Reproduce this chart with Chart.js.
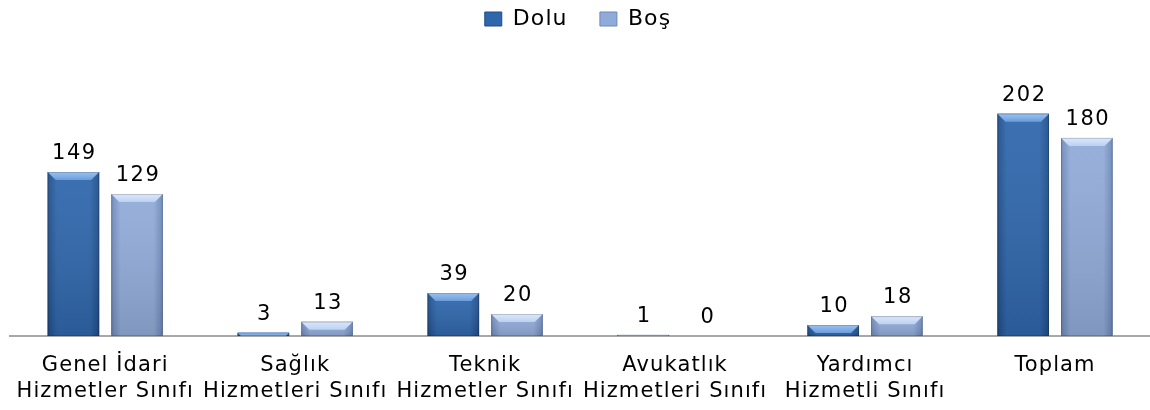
<!DOCTYPE html>
<html>
<head>
<meta charset="utf-8">
<script src="https://cdn.jsdelivr.net/npm/chart.js@4.4.1/dist/chart.umd.min.js"></script>
<style>
  html, body { margin: 0; padding: 0; background: #fff; }
  #wrap { width: 1150px; height: 410px; }
</style>
</head>
<body>
<div id="wrap"><canvas id="myChart" width="1150" height="410"></canvas></div>
<script>
  const categories = [
    ["Genel İdari", "Hizmetler Sınıfı"],
    ["Sağlık", "Hizmetleri Sınıfı"],
    ["Teknik", "Hizmetler Sınıfı"],
    ["Avukatlık", "Hizmetleri Sınıfı"],
    ["Yardımcı", "Hizmetli Sınıfı"],
    ["Toplam"]
  ];
  const doluValues = [149, 3, 39, 1, 10, 202];
  const bosValues = [129, 13, 20, 0, 18, 180];

  const FONT = "'DejaVu Sans', 'Open Sans', sans-serif";

  const palette = {
    dolu: { mid: "#3067ac", edge: "#1e4d89", top: "#6a9ddc", topHi: "#9cc2f0" },
    bos: { mid: "#91abd8", edge: "#6d87b8", top: "#bcd1f2", topHi: "#dce8fb" }
  };

  // wider text, like the original
  const spacing = {
    id: "spacing",
    beforeUpdate(chart) { chart.ctx.letterSpacing = "1.1px"; },
    beforeDraw(chart) { chart.ctx.letterSpacing = "1.1px"; }
  };

  // shading, bevel on top of each bar + value label
  const bevelAndLabels = {
    id: "bevelAndLabels",
    afterDatasetsDraw(chart) {
      const c = chart.ctx;
      chart.data.datasets.forEach(function (ds, i) {
        const meta = chart.getDatasetMeta(i);
        const key = i === 0 ? "dolu" : "bos";
        meta.data.forEach(function (bar, j) {
          const left = bar.x - bar.width / 2;
          const right = bar.x + bar.width / 2;
          const top = bar.y;
          const h = bar.base - bar.y;
          const bev = Math.min(8, h);
          if (h > 0.5) {
            c.save();
            const g = c.createLinearGradient(left, 0, right, 0);
            g.addColorStop(0, palette[key].edge);
            g.addColorStop(0.18, palette[key].mid);
            g.addColorStop(0.82, palette[key].mid);
            g.addColorStop(1, palette[key].edge);
            c.fillStyle = g;
            c.fillRect(left, top, bar.width, h);
            const v = c.createLinearGradient(0, top, 0, bar.base);
            v.addColorStop(0, "rgba(255,255,255,0.06)");
            v.addColorStop(1, "rgba(0,0,0,0.12)");
            c.fillStyle = v;
            c.fillRect(left, top, bar.width, h);
            const t = c.createLinearGradient(0, top, 0, top + bev);
            t.addColorStop(0, palette[key].topHi);
            t.addColorStop(1, palette[key].top);
            c.fillStyle = t;
            c.beginPath();
            c.moveTo(left, top);
            c.lineTo(right, top);
            c.lineTo(right - bev, top + bev);
            c.lineTo(left + bev, top + bev);
            c.closePath();
            c.fill();
            c.strokeStyle = "rgba(0,0,0,0.18)";
            c.lineWidth = 1;
            c.strokeRect(left + 0.5, top + 0.5, bar.width - 1, h - 1);
            c.restore();
          }
          c.save();
          c.letterSpacing = "1.5px";
          c.fillStyle = "#000";
          c.font = "21px " + FONT;
          c.textAlign = "center";
          c.textBaseline = "alphabetic";
          c.fillText(String(ds.data[j]), bar.x + 1, bar.y - 13);
          c.restore();
        });
      });
    }
  };

  const ctx = document.getElementById("myChart").getContext("2d");
  new Chart(ctx, {
    type: "bar",
    data: {
      labels: categories,
      datasets: [
        {
          label: "Dolu",
          data: doluValues,
          backgroundColor: palette.dolu.mid,
          borderWidth: 0,
          categoryPercentage: 0.67,
          barPercentage: 0.81
        },
        {
          label: "Boş",
          data: bosValues,
          backgroundColor: palette.bos.mid,
          borderWidth: 0,
          categoryPercentage: 0.67,
          barPercentage: 0.81
        }
      ]
    },
    options: {
      responsive: false,
      animation: false,
      devicePixelRatio: 1,
      layout: { padding: { top: 0, left: 6, right: 0, bottom: 0 } },
      plugins: {
        tooltip: { enabled: false },
        legend: {
          position: "top",
          labels: {
            color: "#000",
            font: { family: FONT, size: 22 },
            boxWidth: 17,
            boxHeight: 14,
            padding: 8,
            generateLabels: function (chart) {
              return chart.data.datasets.map(function (ds, i) {
                const key = i === 0 ? "dolu" : "bos";
                return {
                  // trailing gap between the two entries, as in the original
                  text: i === 0 ? ds.label + "   " : ds.label,
                  fillStyle: palette[key].mid,
                  strokeStyle: palette[key].edge,
                  lineWidth: 1,
                  datasetIndex: i
                };
              });
            }
          }
        }
      },
      scales: {
        x: {
          grid: { display: false, drawTicks: false },
          border: { display: true, color: "#a8a8a8", width: 2 },
          ticks: {
            color: "#000",
            font: { family: FONT, size: 21, lineHeight: 1.25 },
            maxRotation: 0,
            autoSkip: false,
            padding: 16
          },
          afterFit: function (scale) { scale.height = 74; }
        },
        y: {
          display: false,
          min: 0,
          max: 269
        }
      }
    },
    plugins: [spacing, bevelAndLabels]
  });
</script>
</body>
</html>
